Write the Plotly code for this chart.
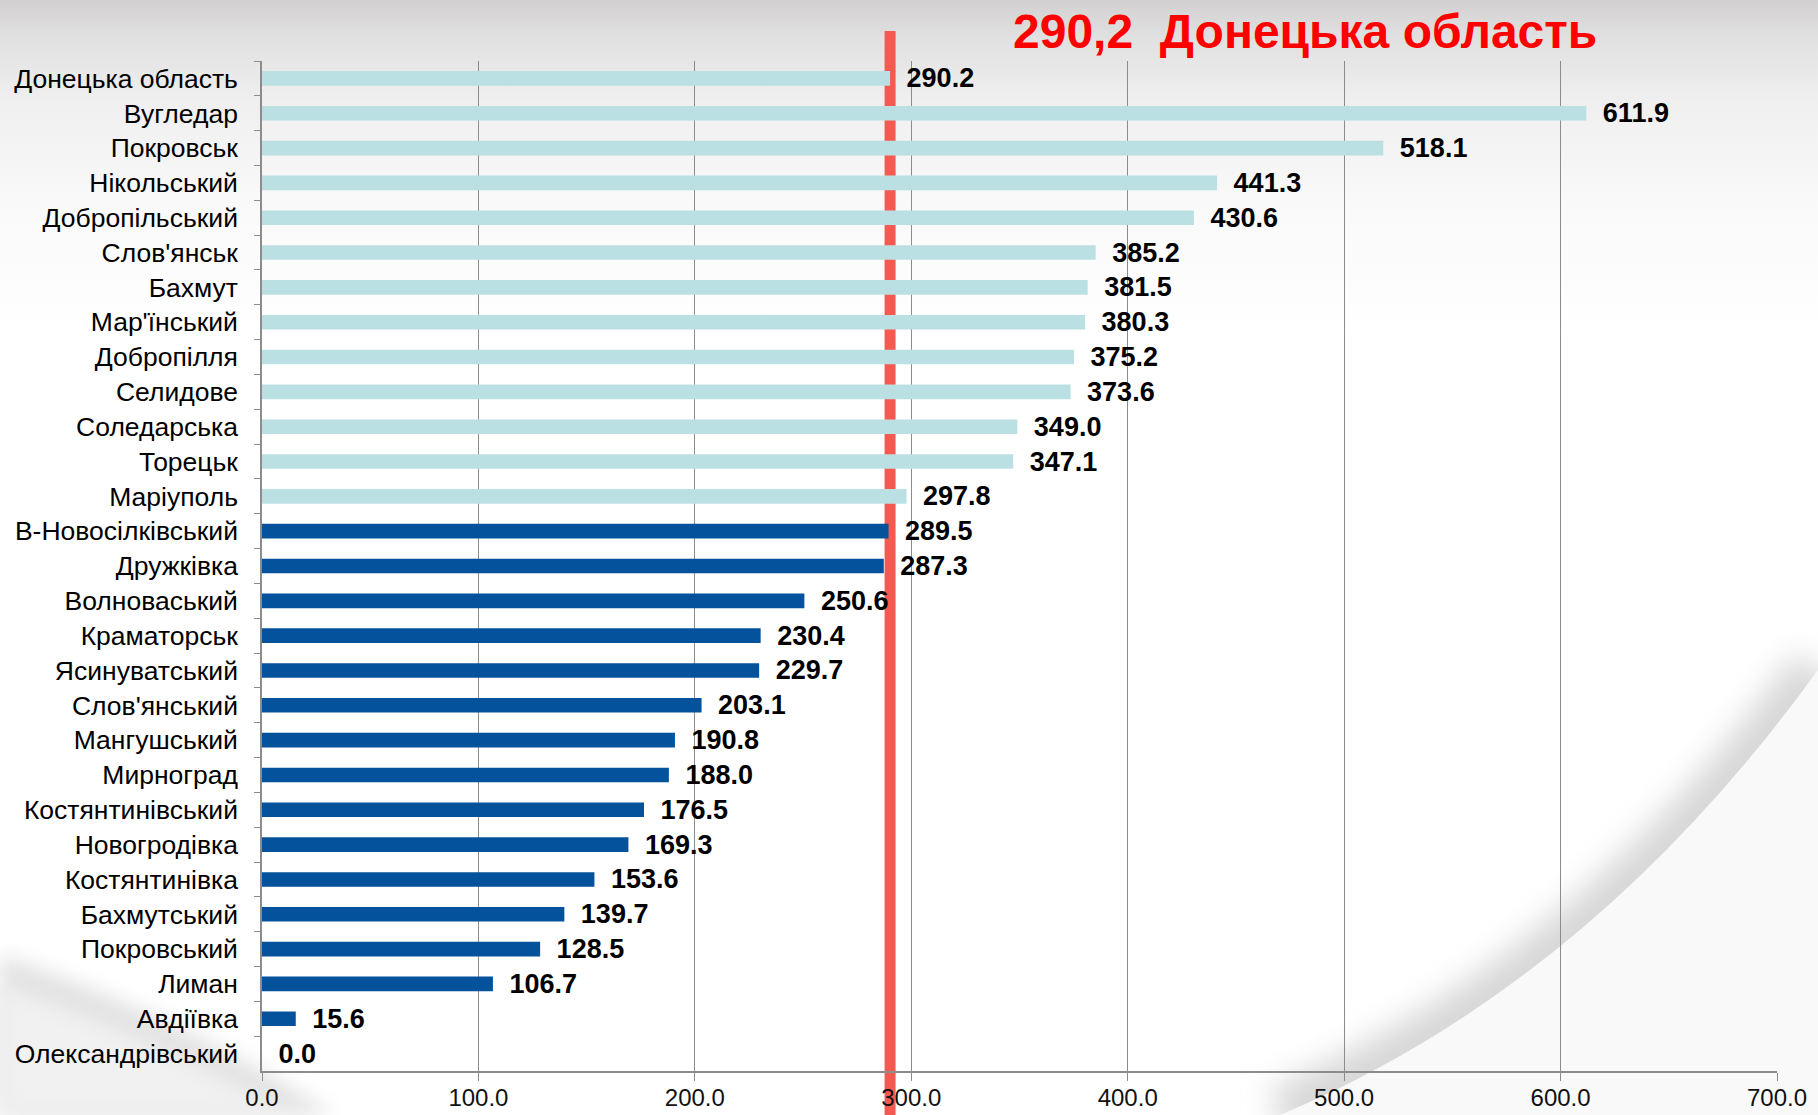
import base64
import plotly.graph_objects as go

# ---- data ----
categories = [
    "Донецька область", "Вугледар", "Покровськ", "Нікольський", "Добропільський",
    "Слов'янськ", "Бахмут", "Мар'їнський", "Добропілля", "Селидове",
    "Соледарська", "Торецьк", "Маріуполь", "В-Новосілківський", "Дружківка",
    "Волноваський", "Краматорськ", "Ясинуватський", "Слов'янський", "Мангушський",
    "Мирноград", "Костянтинівський", "Новогродівка", "Костянтинівка", "Бахмутський",
    "Покровський", "Лиман", "Авдіївка", "Олександрівський",
]
values = [
    290.2, 611.9, 518.1, 441.3, 430.6,
    385.2, 381.5, 380.3, 375.2, 373.6,
    349.0, 347.1, 297.8, 289.5, 287.3,
    250.6, 230.4, 229.7, 203.1, 190.8,
    188.0, 176.5, 169.3, 153.6, 139.7,
    128.5, 106.7, 15.6, 0.0,
]
region_value = 290.2
region_name = "Донецька область"
x_tick_values = [0, 100, 200, 300, 400, 500, 600, 700]

# ---- styles ----
LIGHT = "#BBE0E3"
DARK = "#04529C"
RED_LINE = "#F45A4F"
GRID = "#8C8C8C"
FONT = "Liberation Sans, Arial, sans-serif"

W, H = 1818, 1115
ML, MR, MT, MB = 262, 41, 61, 44

colors = [LIGHT if v >= region_value else DARK for v in values]

# ---- background (svg gradient image) ----
svg = f"""<svg xmlns="http://www.w3.org/2000/svg" width="{W}" height="{H}" viewBox="0 0 {W} {H}">
<defs>
<linearGradient id="g" x1="0" y1="0" x2="0" y2="{H}" gradientUnits="userSpaceOnUse">
<stop offset="0" stop-color="#d2d0d0"/>
<stop offset="0.035" stop-color="#e2e1e1"/>
<stop offset="0.09" stop-color="#efefef"/>
<stop offset="0.18" stop-color="#f9f9f9"/>
<stop offset="0.3" stop-color="#ffffff"/>
<stop offset="1" stop-color="#ffffff"/>
</linearGradient>
<filter id="b" x="-30%" y="-30%" width="160%" height="160%"><feGaussianBlur stdDeviation="16"/></filter>
<filter id="b2" x="-30%" y="-30%" width="160%" height="160%"><feGaussianBlur stdDeviation="10"/></filter>
</defs>
<rect x="0" y="0" width="{W}" height="{H}" fill="url(#g)"/>
<path d="M 1818 670 Q 1590 985 1280 1115" stroke="#d6d6d6" stroke-width="55" fill="none" filter="url(#b)"/>
<path d="M 1818 670 Q 1590 985 1280 1115 L 1818 1115 Z" fill="#f9f9f9"/>
<path d="M 0 955 Q 180 1015 335 1115 L 0 1115 Z" fill="#e2e2e2" filter="url(#b2)"/>
<path d="M 0 985 Q 160 1040 290 1115 L 0 1115 Z" fill="#f1f1f1" filter="url(#b2)"/>
</svg>"""
bg_src = "data:image/svg+xml;base64," + base64.b64encode(svg.encode("utf-8")).decode("ascii")

pw = W - ML - MR
ph = H - MT - MB

fig = go.Figure()
fig.add_trace(go.Bar(
    y=categories,
    x=values,
    orientation="h",
    marker=dict(color=colors, line=dict(width=0)),
    width=0.42,
    texttemplate="\u2002%{x:.1f}",
    textposition="outside",
    constraintext="none",
    cliponaxis=False,
    textfont=dict(family=FONT, size=27, color="#000000", weight="bold"),
    hoverinfo="skip",
))

fig.update_layout(
    width=W, height=H,
    margin=dict(l=ML, r=MR, t=MT, b=MB, pad=0, autoexpand=False),
    paper_bgcolor="#ffffff",
    plot_bgcolor="rgba(0,0,0,0)",
    showlegend=False,
    font=dict(family=FONT, color="#000000"),
    images=[dict(
        source=bg_src, xref="paper", yref="paper",
        x=-ML / pw, y=1 + MT / ph, sizex=W / pw, sizey=H / ph,
        xanchor="left", yanchor="top", sizing="stretch", layer="below",
    )],
    xaxis=dict(
        range=[0, 700],
        tickvals=x_tick_values,
        tickformat=".1f",
        automargin=False,
        showgrid=True, gridcolor=GRID, gridwidth=1.3,
        zeroline=False,
        showline=True, linecolor=GRID, linewidth=1.5,
        ticks="outside", ticklen=8, tickcolor=GRID, tickwidth=1.3,
        ticklabelstandoff=-4,
        tickfont=dict(family=FONT, size=24, color="#111111"),
        fixedrange=True,
    ),
    yaxis=dict(
        type="category",
        categoryorder="array", categoryarray=categories,
        autorange="reversed",
        automargin=False,
        showgrid=False, zeroline=False,
        showline=True, linecolor=GRID, linewidth=1.5,
        ticks="outside", tickson="boundaries", ticklen=6, tickcolor=GRID, tickwidth=1.3,
        ticklabelstandoff=17,
        tickfont=dict(family=FONT, size=26.5, color="#000000"),
        fixedrange=True,
    ),
    shapes=[dict(
        type="line", xref="x", yref="paper",
        x0=region_value, x1=region_value,
        y0=-MB / ph, y1=1 + (MT - 31) / ph,
        line=dict(color=RED_LINE, width=11),
        layer="between",
    )],
    annotations=[dict(
        xref="paper", yref="paper",
        x=(1305 - ML) / pw, y=1 + (MT - 32) / ph,
        xanchor="center", yanchor="middle",
        text=f"{region_value:.1f}".replace(".", ",") + "\u00a0\u00a0" + region_name,
        showarrow=False,
        font=dict(family=FONT, size=48, color="#FF0000", weight="bold"),
    )],
)

fig.write_html(
    "out.html",
    config={"displayModeBar": False},
    post_script="document.body.style.margin='0';document.body.style.overflow='hidden';",
)
